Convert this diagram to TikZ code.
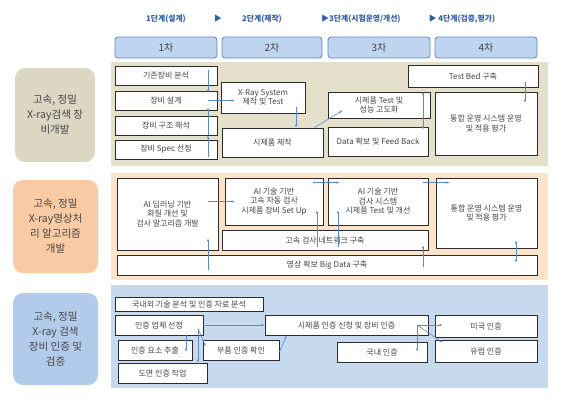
\documentclass[tikz,border=0pt]{standalone}
\usepackage{fontspec}
\setmainfont{Noto Sans CJK KR}
\usetikzlibrary{arrows.meta}

\definecolor{bandA}{HTML}{E5E0CC}
\definecolor{bandB}{HTML}{FBE3CC}
\definecolor{bandC}{HTML}{C7D9EF}
\definecolor{tagA}{HTML}{DCD7C3}
\definecolor{tagB}{HTML}{F8CBA4}
\definecolor{tagC}{HTML}{B3CBEA}
\definecolor{headfill}{HTML}{BFD4EE}
\definecolor{headline}{HTML}{5B88C7}
\definecolor{stepblue}{HTML}{2F5DA8}
\definecolor{arrc}{HTML}{5C8AC9}
\definecolor{boxline}{HTML}{2B2B2B}
\definecolor{txt}{HTML}{454545}

\tikzset{
  bx/.style={draw=boxline, fill=white, line width=0.9pt, inner sep=1pt, align=center,
    text=txt, font=\fontsize{8}{9.5}\selectfont},
  head/.style={draw=headline, fill=headfill, line width=0.8pt, rounded corners=3pt,
    inner sep=0pt, text=txt, font=\fontsize{10}{12}\selectfont},
  tag/.style={rounded corners=10pt, inner sep=0pt, align=center, text=txt,
    font=\fontsize{10.5}{15}\selectfont},
  steptext/.style={text=stepblue, font=\bfseries\fontsize{7.8}{9}\selectfont, inner sep=0pt},
  arr/.style={draw=arrc, line width=0.6pt, -{Latex[length=3pt,width=2.6pt]}},
  arrd/.style={arr, {Latex[length=3pt,width=2.6pt]}-{Latex[length=3pt,width=2.6pt]}}
}

% style, name, x1, y1, x2, y2, text
\newcommand{\pbox}[7]{%
  \node[#1, minimum width={(#5-#3)*1pt}, minimum height={(#6-#4)*1pt}]
    (#2) at ({(#3+#5)/2},{(#4+#6)/2}) {#7};}

\begin{document}
\begin{tikzpicture}[x=1pt,y=-1pt]
\useasboundingbox (0,0) rectangle (561,402);

% steps
\node[steptext] (st1) at (166,19) {1단계(설계)};
\node[steptext] (tri) at (218,19) {▶};
\node[steptext] (st2) at (262,19) {2단계(제작)};
\node[steptext] (st3) at (361,19) {▶3단계(시험운영/개선)};
\node[steptext] (st4) at (462,19) {▶ 4단계(검증,평가)};

\pbox{head}{h1}{115}{37}{217}{58}{1차}
\pbox{head}{h2}{222}{37}{322}{58}{2차}
\pbox{head}{h3}{328}{37}{430}{58}{3차}
\pbox{head}{h4}{435}{37}{537}{58}{4차}

% bands
\fill[bandA] (111,62) rectangle (548,166);
\fill[bandB] (111,173) rectangle (548,280);
\fill[bandC] (111,285) rectangle (548,388);

\pbox{tag, fill=tagA}{tg1}{15}{68}{95}{162}{고속, 정밀\\X-ray검색 장\\비개발}
\pbox{tag, fill=tagB}{tg2}{13}{180}{98}{273}{고속, 정밀\\X-ray영상처\\리 알고리즘\\개발}
\pbox{tag, fill=tagC}{tg3}{13}{293}{98}{385}{고속, 정밀\\X-ray 검색\\장비 인증 및\\검증}

% band 1
\pbox{bx}{ex1}{115}{66}{217}{85}{기존장비 분석}
\pbox{bx}{ex2}{115}{91}{217}{110}{장비 설계}
\pbox{bx}{ex3}{115}{116}{217}{135}{장비 구조 해석}
\pbox{bx}{ex4}{115}{140}{217}{159}{장비 Spec 선정}
\pbox{bx}{xray}{221}{82}{305}{113}{X-Ray System\\제작 및 Test}
\pbox{bx}{proto}{222}{128}{323}{157}{시제품 제작}
\pbox{bx}{test1}{328}{92}{430}{118}{시제품 Test 및\\성능 고도화}
\pbox{bx}{data}{328}{127}{428}{156}{Data 확보 및 Feed Back}
\pbox{bx}{tb}{408}{65}{538}{87}{Test Bed 구축}
\pbox{bx}{int1}{435}{92}{537}{155}{통합 운영 시스템 운영\\및 적용 평가}

% band 2
\pbox{bx}{ai1}{117}{178}{218}{250}{AI 딥러닝 기반\\화질 개선 및\\검사 알고리즘 개발}
\pbox{bx}{ai2}{225}{178}{323}{225}{AI 기술 기반\\고속 자동 검사\\시제품 장비 Set Up}
\pbox{bx}{ai3}{328}{178}{428}{225}{AI 기술 기반\\검사 시스템\\시제품 Test 및 개선}
\pbox{bx}{int2}{436}{178}{537}{248}{통합 운영 시스템 운영\\및 적용 평가}
\pbox{bx}{net}{222}{230}{428}{250}{고속 검사 네트워크 구축}
\pbox{bx}{big}{117}{255}{537}{275}{영상 확보 Big Data 구축}

% band 3
\pbox{bx}{dom}{115}{297}{263}{311}{국내외 기술 분석 및 인증 자료 분석}
\pbox{bx}{sel}{115}{315}{203}{335}{인증 업체 선정}
\pbox{bx}{ext}{118}{340}{192}{360}{인증 요소 추출}
\pbox{bx}{part}{203}{340}{279}{360}{부품 인증 확인}
\pbox{bx}{dwg}{118}{363}{207}{383}{도면 인증 작업}
\pbox{bx}{apply}{265}{315}{428}{335}{시제품 인증 신청 및 장비 인증}
\pbox{bx}{usa}{435}{315}{537}{337}{미국 인증}
\pbox{bx}{kor}{337}{342}{427}{362}{국내 인증}
\pbox{bx}{eu}{435}{340}{537}{362}{유럽 인증}

% arrow columns
\coordinate (cA) at (208,0);
\coordinate (cB) at (296,0);
\coordinate (cC) at (423,0);
\coordinate (cD) at (525,0);
\coordinate (cE) at (317,0);
\coordinate (cF) at (338,0);
\coordinate (cG) at (516,0);
\coordinate (cH) at (186,0);
\coordinate (cI) at (198,0);
\coordinate (cJ) at (417,0);

\draw[arr] ([yshift=-4pt]cA |- ex1.north) -- ([yshift=-2pt]cA |- ex2.north);
\draw[arr] ([yshift=2pt]cA |- ex4.south) -- (cA |- ex3.south);
\draw[arr] (cA |- ex3.south) -- ([yshift=3pt]cA |- ex2.south);
\draw[arr] (cA |- ex2.east) -- ([xshift=14pt]xray.west |- ex2.east);
\draw[arr] ([yshift=6pt]cB |- xray.south) -- (cB |- proto.north);
\draw[arr] ([xshift=-9pt]proto.north east) -- ([xshift=15pt,yshift=8pt]test1.south west);
\draw[arrd] ([yshift=-4pt]cC |- tb.south) -- ([yshift=-3pt]cC |- data.north);
\draw[arr] ([yshift=5pt]cD |- tb.south) -- ([yshift=-11pt]cD |- int1.north);

\draw[arr] ([xshift=-10pt]ai1.east |- ai2.west) -- ([xshift=10pt]ai2.west);
\draw[arr] ([xshift=-10pt,yshift=-5pt]ai2.north east) -- ([xshift=12pt,yshift=-5pt]ai3.north west);
\draw[arr] ([xshift=-5pt,yshift=-5pt]ai3.north east) -- ([xshift=14pt,yshift=-5pt]int2.north west);
\draw[arr] ([yshift=5pt]cA |- big.south) -- ([yshift=12pt]cA |- ai1.south);
\draw[arr] ([yshift=3pt]cE |- net.south) -- ([yshift=15pt]cE |- ai2.south);
\draw[arr] ([yshift=3pt]cF |- net.south) -- ([yshift=15pt]cF |- ai3.south);
\draw[arr] ([yshift=8pt]cC |- big.south) -- ([yshift=5pt]cC |- net.south);
\draw[arrd] ([yshift=8pt]cG |- int2.south) -- ([yshift=-8pt]cG |- big.north);

\draw[arr] (sel.east) -- (apply.west);
\draw[arr] (cH |- sel.south) -- ([yshift=-12pt]cH |- ext.north);
\draw[arr] ([yshift=5pt]cI |- sel.south) -- (cI |- dwg.north);
\draw[arr] ([yshift=7pt]cI |- sel.south) -- ([xshift=3pt,yshift=-7pt]part.north west);
\draw[arr] ([yshift=-2pt]part.east) -- ([xshift=22pt]apply.south west);
\draw[arr] (cJ |- apply.east) -- ([xshift=8pt]usa.west |- apply.east);
\draw[arr] (cJ |- apply.east) -- ([yshift=-10pt]cJ |- kor.north);
\draw[arr] (cJ |- apply.east) -- ([xshift=8pt,yshift=-3pt]eu.north west);

\end{tikzpicture}
\end{document}
